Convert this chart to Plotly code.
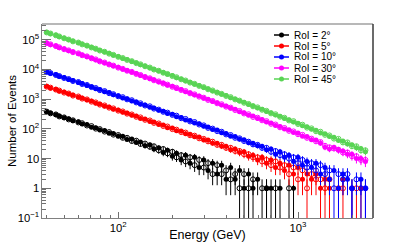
import math
import plotly.graph_objects as go

# ---------------- data ----------------
energy_gev = [40, 42, 45, 47, 50, 53, 56, 60, 63, 67,
              71, 75, 79, 84, 89, 94, 100, 106, 112, 119,
              126, 133, 141, 150, 158, 168, 178, 188, 200, 211,
              224, 237, 251, 266, 282, 299, 316, 335, 355, 376,
              398, 422, 447, 473, 501, 531, 562, 596, 631, 668,
              708, 750, 794, 841, 891, 944, 1000, 1059, 1122, 1189,
              1259, 1334, 1413, 1496, 1585, 1679, 1778, 1884, 1995, 2113,
              2239, 2371]

roi2_filled = [375, 340, 298, 272, 236, 218, 186, 174, 146, 139,
               114, 110, 91, 89, 71, 70, 56, 57, 44, 46,
               35, 36, 27, 29, 21, 23, 16, 19, 12, 15,
               9, 13, 7, 11, 5, 9, 4, 7, 3, 6,
               2, 5, 2, 4, 1, 3, 1, 2, None, 1,
               1, None, 1, None, None, 1, None, None, None, None,
               None, None, None, None, None, None, None, None, None, None,
               None, None]
roi2_open = [382, 333, 306, 262, 243, 208, 194, 165, 155, 130,
             124, 102, 98, 81, 78, 64, 62, 50, 50, 39,
             40, 31, 32, 25, 26, 19, 21, 15, 17, 11,
             13, 8, 11, 6, 9, 5, 7, 3, 6, 3,
             4, 2, 3, 1, 3, 1, 2, None, 1, 1,
             None, 1, None, None, 1, None, None, None, None, None,
             None, None, None, None, None, None, None, None, None, None,
             None, None]

roi5_filled = [2700, 2350, 2170, 1860, 1730, 1480, 1370, 1170, 1090, 930,
               865, 735, 685, 580, 545, 460, 432, 362, 342, 288,
               270, 225, 214, 178, 170, 140, 134, 110, 106, 86,
               84, 68, 66, 54, 53, 42, 42, 33, 33, 26,
               26, 20, 21, 16, 17, 12, 13, 9, 11, 7,
               9, 5, 7, 4, 6, 3, 5, 2, 3, 2,
               3, 1, 2, 1, None, 1, 2, None, 1, None,
               1, None]
roi5_open = [2640, 2440, 2100, 1950, 1660, 1550, 1320, 1230, 1045, 980,
             825, 775, 655, 615, 518, 488, 410, 386, 325, 306,
             255, 243, 202, 192, 159, 152, 125, 120, 98, 94,
             78, 75, 61, 59, 48, 46, 38, 37, 29, 29,
             23, 23, 18, 18, 14, 14, 11, 11, 8, 9,
             6, 8, 5, 6, 3, 5, 2, 4, 1, 3,
             2, 2, 1, 2, None, 1, 1, None, None, 1,
             None, None]

roi10_filled = [8300, 7250, 6700, 5750, 5330, 4570, 4230, 3610, 3350, 2870,
                2640, 2250, 2100, 1780, 1660, 1400, 1300, 1100, 1030, 870,
                805, 680, 635, 535, 500, 420, 392, 330, 308, 258,
                240, 200, 190, 158, 150, 122, 116, 95, 91, 74,
                70, 57, 55, 45, 43, 34, 33, 27, 26, 20,
                21, 14, 17, 11, 13, 8, 11, 6, 8, 5,
                7, 3, 5, 2, 4, 1, 3, 2, 1, None,
                2, 1]
roi10_open = [8200, 7550, 6500, 6000, 5150, 4750, 4080, 3780, 3230, 3000,
              2550, 2370, 2010, 1870, 1590, 1470, 1250, 1165, 985, 920,
              775, 725, 610, 575, 480, 445, 375, 352, 295, 278,
              228, 216, 178, 170, 140, 131, 108, 102, 84, 80,
              65, 62, 50, 48, 39, 37, 30, 29, 23, 23,
              17, 18, 13, 14, 10, 11, 7, 9, 5, 7,
              4, 6, 3, 4, 1, 3, 2, 3, 1, 2,
              1, 1]

roi30_filled = [77600, 68200, 62300, 54000, 49400, 42800, 39100, 33800, 30900, 26700,
                24400, 21000, 19200, 16500, 15100, 13000, 11900, 10200, 9300, 8000,
                7300, 6250, 5700, 4880, 4460, 3800, 3480, 2960, 2710, 2300,
                2110, 1790, 1640, 1390, 1270, 1070, 985, 830, 760, 640,
                590, 492, 455, 378, 350, 290, 270, 222, 207, 170,
                158, 130, 121, 99, 93, 75, 72, 57, 55, 43,
                42, 33, 24, 21, 24, 19, 18, 14, 14, 10,
                10, 8]
roi30_open = [76500, 70100, 60900, 55700, 47900, 43900, 38000, 34900, 30100, 27500,
              23700, 21800, 18600, 17100, 14700, 13500, 11500, 10500, 9050, 8300,
              7050, 6500, 5520, 5050, 4310, 3960, 3360, 3090, 2610, 2410,
              2030, 1870, 1570, 1450, 1215, 1120, 940, 870, 725, 675,
              560, 520, 430, 402, 330, 310, 252, 238, 194, 182,
              148, 140, 113, 107, 86, 82, 66, 63, 50, 47,
              38, 36, 27, 24, 22, 20, 16, 16, 12, 12,
              9, 9]

roi45_filled = [180000, 158000, 144500, 126000, 114500, 99800, 90300, 78900, 71500, 62200,
                56300, 49000, 44400, 38500, 34900, 30200, 27400, 23600, 21500, 18500,
                16800, 14500, 13100, 11300, 10250, 8800, 7950, 6850, 6200, 5300,
                4810, 4120, 3730, 3180, 2890, 2460, 2230, 1900, 1720, 1460,
                1320, 1125, 1015, 862, 780, 660, 598, 505, 458, 385,
                350, 293, 268, 223, 204, 169, 156, 128, 118, 97,
                90, 73, 68, 55, 52, 41, 39, 31, 29, 23,
                22, 17]
roi45_open = [176000, 162000, 141000, 129000, 111800, 101500, 88200, 80500, 69800, 63500,
              55000, 50100, 43300, 39400, 34000, 31000, 26600, 24300, 20900, 19000,
              16300, 14900, 12800, 11600, 9950, 9050, 7750, 7050, 6000, 5480,
              4660, 4250, 3610, 3280, 2790, 2540, 2150, 1960, 1660, 1510,
              1280, 1170, 980, 895, 755, 690, 575, 530, 440, 405,
              332, 310, 255, 236, 192, 182, 146, 138, 110, 104,
              83, 80, 63, 60, 47, 46, 35, 35, 26, 26,
              19, 19]

series_labels = ["RoI = 2°", "RoI = 5°", "RoI = 10°", "RoI = 30°", "RoI = 45°"]
series_colors = ["#000000", "#ff0000", "#0000ff", "#ff00ff", "#59d454"]
series_filled = [roi2_filled, roi5_filled, roi10_filled, roi30_filled, roi45_filled]
series_open = [roi2_open, roi5_open, roi10_open, roi30_open, roi45_open]

FONT = "Liberation Sans, Arial, Helvetica, sans-serif"


def errs(vals):
    return [math.sqrt(v) if v is not None else None for v in vals]


fig = go.Figure()
for lab, col, fv, ov in zip(series_labels, series_colors, series_filled, series_open):
    fig.add_trace(go.Scatter(
        x=energy_gev, y=ov, mode="markers", name=lab + " (open)", showlegend=False,
        marker=dict(symbol="circle-open", size=5, color=col, line=dict(width=1, color=col)),
        error_y=dict(type="data", array=errs(ov), visible=True, thickness=1, width=0, color=col),
    ))
    fig.add_trace(go.Scatter(
        x=energy_gev, y=fv, mode="markers", name=lab, showlegend=False,
        marker=dict(symbol="circle", size=5, color=col),
        error_y=dict(type="data", array=errs(fv), visible=True, thickness=1, width=0, color=col),
    ))

# manual compact legend (layout decoration in paper coordinates)
L, R, T, B = 42, 373, 24, 218
PW, PH = R - L, B - T
def px_x(p):
    return (p - L) / PW
def px_y(p):
    return (B - p) / PH

shapes = []
annotations = []
legend_rows = [35, 46, 57, 68, 79]
for lab, col, row in zip(series_labels, series_colors, legend_rows):
    shapes.append(dict(type="line", xref="paper", yref="paper",
                       x0=px_x(274), x1=px_x(289), y0=px_y(row), y1=px_y(row),
                       line=dict(color=col, width=1.5)))
    shapes.append(dict(type="circle", xref="paper", yref="paper",
                       xsizemode="pixel", ysizemode="pixel",
                       xanchor=px_x(281.5), yanchor=px_y(row),
                       x0=-2.5, x1=2.5, y0=-2.5, y1=2.5,
                       fillcolor=col, line=dict(color=col, width=0)))
    annotations.append(dict(xref="paper", yref="paper", x=px_x(292), y=px_y(row),
                            xanchor="left", yanchor="middle", showarrow=False,
                            text=lab, font=dict(family=FONT, size=10, color="#000")))

# y-axis title as rotated text
annotations.append(dict(xref="paper", yref="paper", x=px_x(12), y=0.5,
                        xanchor="center", yanchor="middle", showarrow=False, textangle=-90,
                        text="Number of Events", font=dict(family=FONT, size=11.5, color="#000")))

# frame: top (light grey) and right (dark) edges
shapes.append(dict(type="line", xref="paper", yref="paper", x0=0, x1=1, y0=1, y1=1,
                   line=dict(color="#a0a0a0", width=1.5)))
shapes.append(dict(type="line", xref="paper", yref="paper", x0=1, x1=1, y0=0, y1=1,
                   line=dict(color="#3a3a3a", width=1.5)))

fig.update_layout(
    width=415, height=242,
    margin=dict(l=L, r=415 - R, t=T, b=242 - B, pad=0),
    paper_bgcolor="white", plot_bgcolor="white",
    showlegend=False,
    font=dict(family=FONT, size=11, color="#000"),
    shapes=shapes, annotations=annotations,
    xaxis=dict(
        type="log", range=[1.576, 3.417], dtick=1, exponentformat="power",
        automargin=False,
        showgrid=False, zeroline=False,
        showline=True, linecolor="#808080", linewidth=1,
        ticks="inside", ticklen=6, tickcolor="#707070", tickwidth=1,
        minor=dict(ticks="inside", ticklen=3, dtick="D1", tickcolor="#707070", showgrid=False),
        tickfont=dict(family=FONT, size=9, color="#000"),
        title=dict(text="Energy (GeV)", font=dict(family=FONT, size=12.5, color="#000"), standoff=6),
    ),
    yaxis=dict(
        type="log", range=[-1, 5.53], dtick=1, exponentformat="power",
        automargin=False,
        showgrid=False, zeroline=False,
        showline=True, linecolor="#808080", linewidth=1,
        ticks="inside", ticklen=9, tickcolor="#707070", tickwidth=1,
        minor=dict(ticks="inside", ticklen=4, dtick="D1", tickcolor="#707070", showgrid=False),
        tickfont=dict(family=FONT, size=9, color="#000"),
    ),
)

fig.write_html("out.html",
               config={"displayModeBar": False},
               post_script="document.body.style.margin='0px';document.body.style.padding='0px';")
